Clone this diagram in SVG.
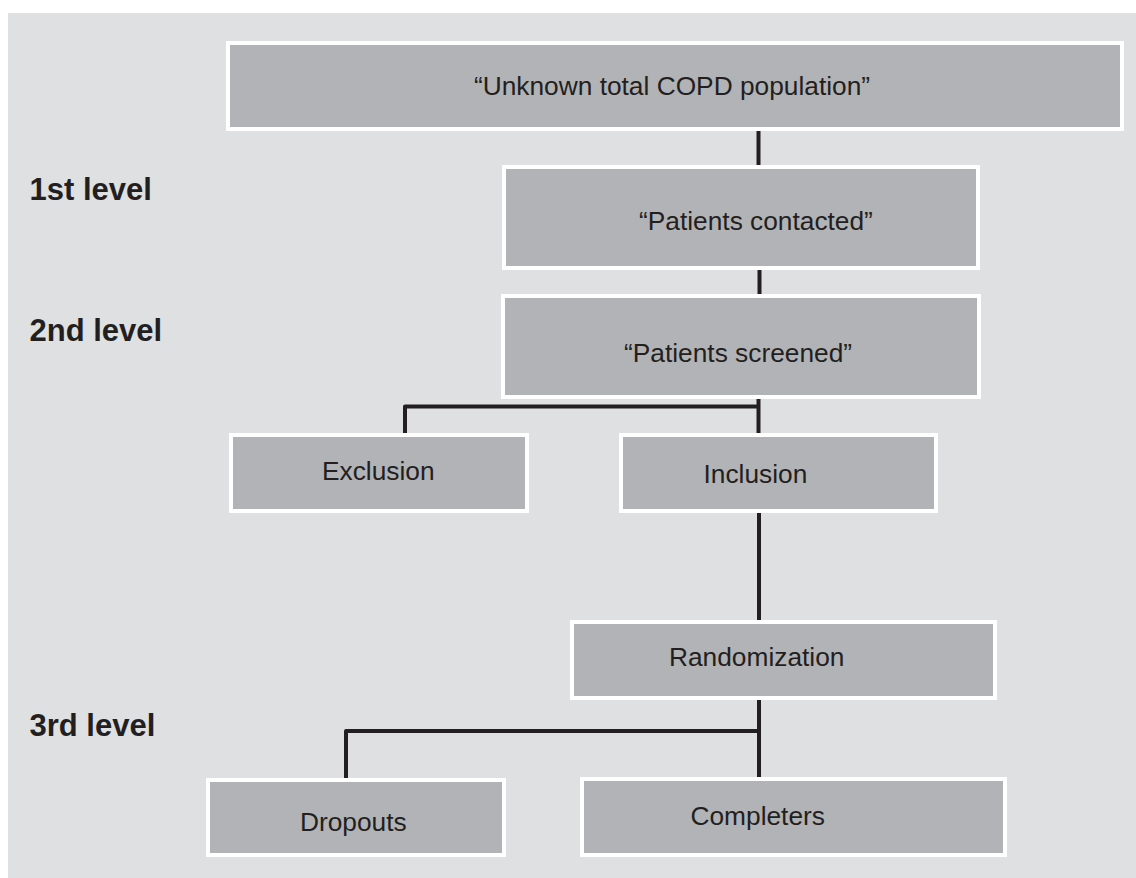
<svg xmlns="http://www.w3.org/2000/svg" width="1136" height="878" viewBox="0 0 1136 878">
<style>
.box{fill:#b2b3b6;stroke:#ffffff;stroke-width:4}
.t{font-family:"Liberation Sans",Arial,sans-serif;font-size:26.3px;fill:#231f20}
.lv{font-family:"Liberation Sans",Arial,sans-serif;font-size:31px;font-weight:bold;fill:#231f20}
.c{fill:none;stroke:#231f20;stroke-width:4;stroke-linejoin:round}
</style>
<rect x="0" y="0" width="1136" height="878" fill="#ffffff"/>
<rect x="8" y="13" width="1128" height="865" fill="#dfe0e2"/>
<g id="levels">
<text class="lv" x="29.5" y="200">1st level</text>
<text class="lv" x="29.5" y="341">2nd level</text>
<text class="lv" x="29.5" y="736">3rd level</text>
</g>
<g id="connectors">
<path class="c" d="M758.5 131V165"/>
<path class="c" d="M759.5 270V294"/>
<path class="c" d="M405 433V406.5H758.5M758.5 399V433"/>
<path class="c" d="M759 513V621"/>
<path class="c" d="M346 778V731H759M759 700V778"/>
</g>
<g id="n_unknown"><rect class="box" x="228" y="43" width="894" height="86"/><text class="t" x="672" y="95" text-anchor="middle">“Unknown total COPD population”</text></g>
<g id="n_contacted"><rect class="box" x="504" y="167" width="474" height="101"/><text class="t" x="639" y="230">“Patients contacted”</text></g>
<g id="n_screened"><rect class="box" x="503" y="296" width="476" height="101"/><text class="t" x="624" y="362">“Patients screened”</text></g>
<g id="n_exclusion"><rect class="box" x="231" y="435" width="296" height="76"/><text class="t" x="322" y="480">Exclusion</text></g>
<g id="n_inclusion"><rect class="box" x="621" y="435" width="315" height="76"/><text class="t" x="703.5" y="483">Inclusion</text></g>
<g id="n_randomization"><rect class="box" x="572" y="622" width="423" height="76"/><text class="t" x="669" y="666">Randomization</text></g>
<g id="n_dropouts"><rect class="box" x="208" y="780" width="296" height="75"/><text class="t" x="300" y="831">Dropouts</text></g>
<g id="n_completers"><rect class="box" x="582" y="779" width="423" height="76"/><text class="t" x="690.5" y="825">Completers</text></g>
</svg>
